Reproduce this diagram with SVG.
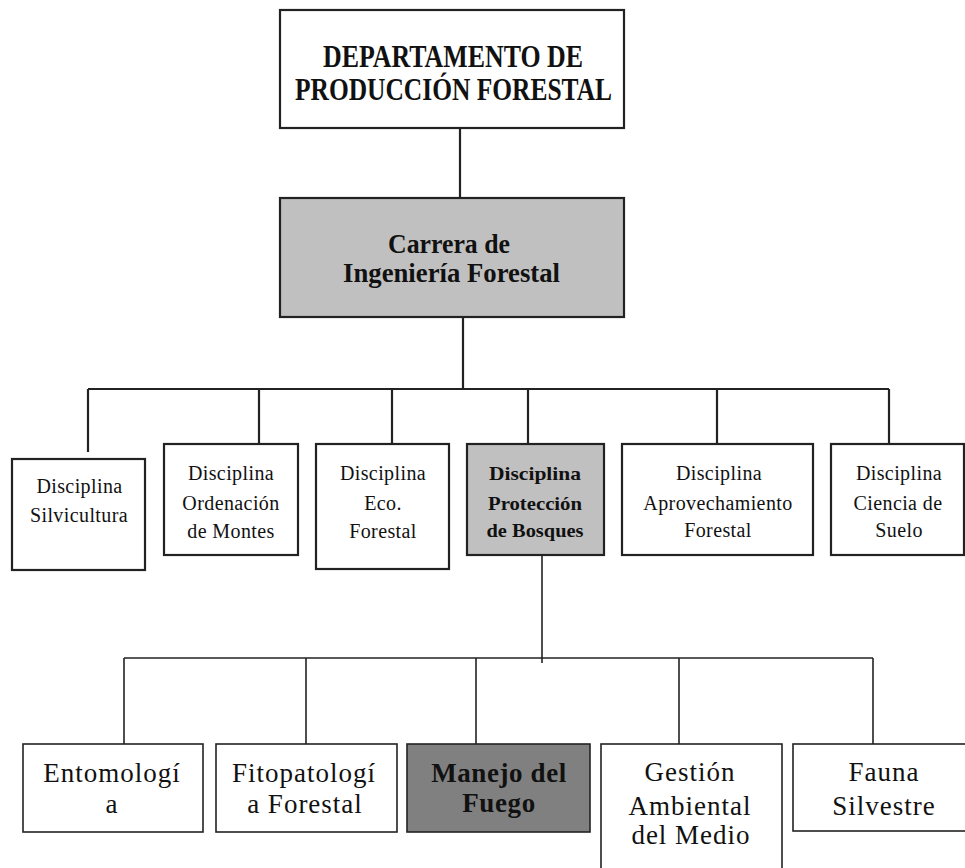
<svg xmlns="http://www.w3.org/2000/svg" width="965" height="868" viewBox="0 0 965 868">
<style>
.box{fill:#ffffff;stroke:#222;stroke-width:2.2}
.box2{fill:#ffffff;stroke:#222;stroke-width:1.6}
.gray{fill:#c0c0c0}
.dark{fill:#808080}
.ln{stroke:#222;stroke-width:2.2;fill:none}
.ln2{stroke:#222;stroke-width:1.6;fill:none}
text{font-family:"Liberation Serif","Times New Roman",serif;fill:#111;text-anchor:middle}
.hb{font-weight:bold;font-size:31px}
.hc{font-weight:bold;font-size:28px}
.d{font-size:20px;letter-spacing:0.4px}
.db{font-size:19px;font-weight:bold}
.s{font-size:27px;letter-spacing:1px}
.sb{font-size:27px;font-weight:bold;letter-spacing:0.6px}
</style>
<rect width="965" height="868" fill="#ffffff"/>
<g id="connectors">
<line class="ln" x1="460" y1="128" x2="460" y2="198"/>
<line class="ln" x1="463" y1="317" x2="463" y2="389"/>
<line class="ln" x1="88" y1="389" x2="889" y2="389"/>
<line class="ln" x1="88" y1="389" x2="88" y2="452"/>
<line class="ln" x1="259" y1="389" x2="259" y2="444"/>
<line class="ln" x1="392" y1="389" x2="392" y2="444"/>
<line class="ln" x1="528" y1="389" x2="528" y2="444"/>
<line class="ln" x1="717" y1="389" x2="717" y2="444"/>
<line class="ln" x1="889" y1="389" x2="889" y2="444"/>
<line class="ln2" x1="542" y1="555" x2="542" y2="663"/>
<line class="ln2" x1="124" y1="658" x2="873" y2="658"/>
<line class="ln2" x1="124" y1="658" x2="124" y2="744"/>
<line class="ln2" x1="306" y1="658" x2="306" y2="744"/>
<line class="ln2" x1="476" y1="658" x2="476" y2="744"/>
<line class="ln2" x1="679" y1="658" x2="679" y2="744"/>
<line class="ln2" x1="873" y1="658" x2="873" y2="744"/>
</g>
<g id="departamento">
<rect class="box" x="280" y="10" width="344" height="118"/>
<text class="hb" x="453" y="67" textLength="260" lengthAdjust="spacingAndGlyphs">DEPARTAMENTO DE</text>
<text class="hb" x="453.5" y="100" textLength="317" lengthAdjust="spacingAndGlyphs">PRODUCCIÓN FORESTAL</text>
</g>
<g id="carrera">
<rect class="box gray" x="280" y="198" width="344" height="119"/>
<text class="hc" x="449" y="253" textLength="122" lengthAdjust="spacingAndGlyphs">Carrera de</text>
<text class="hc" x="451.5" y="282" textLength="217" lengthAdjust="spacingAndGlyphs">Ingeniería Forestal</text>
</g>
<g id="silvicultura">
<rect class="box" x="12" y="459" width="133" height="111"/>
<text class="d" x="79.5" y="493">Disciplina</text>
<text class="d" x="79" y="522">Silvicultura</text>
</g>
<g id="ordenacion">
<rect class="box" x="164" y="444" width="134" height="111"/>
<text class="d" x="231" y="480">Disciplina</text>
<text class="d" x="231" y="510">Ordenación</text>
<text class="d" x="231" y="538">de Montes</text>
</g>
<g id="eco">
<rect class="box" x="316" y="444" width="133" height="125"/>
<text class="d" x="383" y="480">Disciplina</text>
<text class="d" x="383" y="510">Eco.</text>
<text class="d" x="383" y="538">Forestal</text>
</g>
<g id="proteccion">
<rect class="box gray" x="467" y="444" width="137" height="111"/>
<text class="db" x="535" y="480" textLength="92" lengthAdjust="spacingAndGlyphs">Disciplina</text>
<text class="db" x="535" y="510" textLength="94" lengthAdjust="spacingAndGlyphs">Protección</text>
<text class="db" x="535" y="537" textLength="97" lengthAdjust="spacingAndGlyphs">de Bosques</text>
</g>
<g id="aprovechamiento">
<rect class="box" x="622" y="444" width="191" height="111"/>
<text class="d" x="719" y="480">Disciplina</text>
<text class="d" x="718" y="510">Aprovechamiento</text>
<text class="d" x="718" y="537">Forestal</text>
</g>
<g id="ciencia">
<rect class="box" x="831" y="444" width="133" height="111"/>
<text class="d" x="899" y="480">Disciplina</text>
<text class="d" x="898" y="510">Ciencia de</text>
<text class="d" x="899" y="537">Suelo</text>
</g>
<g id="entomologia">
<rect class="box2" x="23" y="744" width="180" height="88"/>
<text class="s" x="112" y="782">Entomologí</text>
<text class="s" x="112" y="813">a</text>
</g>
<g id="fitopatologia">
<rect class="box2" x="216" y="744" width="181" height="88"/>
<text class="s" x="304" y="782">Fitopatologí</text>
<text class="s" x="305" y="813">a Forestal</text>
</g>
<g id="manejo">
<rect class="box2 dark" x="407" y="744" width="183" height="88"/>
<text class="sb" x="499" y="782">Manejo del</text>
<text class="sb" x="499" y="812">Fuego</text>
</g>
<g id="gestion">
<rect class="box2" x="601" y="744" width="181" height="130"/>
<text class="s" x="690" y="781">Gestión</text>
<text class="s" x="690" y="815">Ambiental</text>
<text class="s" x="691" y="844">del Medio</text>
</g>
<g id="fauna">
<rect class="box2" x="793" y="744" width="175" height="87"/>
<text class="s" x="884" y="781">Fauna</text>
<text class="s" x="884" y="815">Silvestre</text>
</g>
</svg>
